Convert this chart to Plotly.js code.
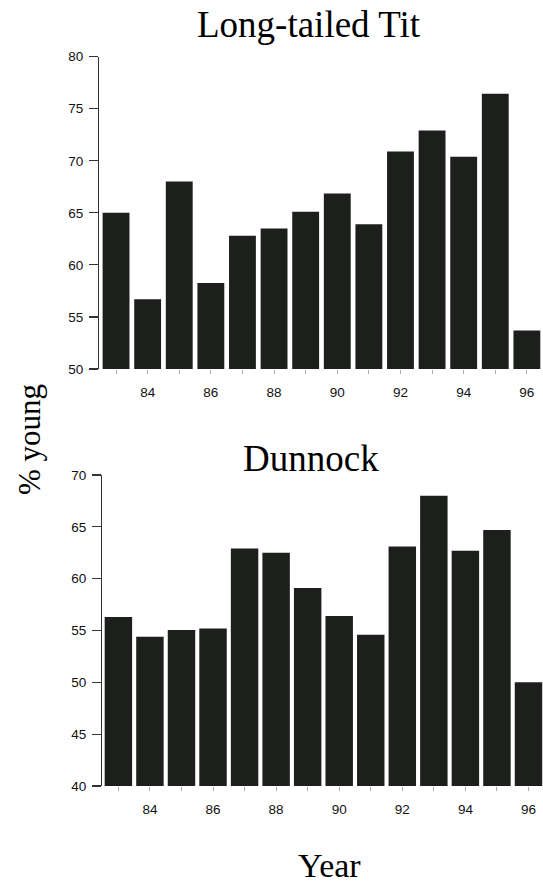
<!DOCTYPE html>
<html>
<head>
<meta charset="utf-8">
<script src="https://cdn.plot.ly/plotly-3.0.1.min.js"></script>
<style>html,body{margin:0;padding:0;background:#fff;}#chart{width:543px;height:886px;}</style>
</head>
<body>
<div id="chart"></div>
<script>
// Data
const years = [1983,1984,1985,1986,1987,1988,1989,1990,1991,1992,1993,1994,1995,1996];
const longTailedTit = [65.0,56.7,68.0,58.25,62.8,63.5,65.1,66.85,63.9,70.9,72.9,70.4,76.45,53.7];
const dunnock = [56.3,54.4,55.05,55.2,62.9,62.5,59.1,56.4,54.6,63.1,68.0,62.7,64.7,50.0];
const labelYears = [1984,1986,1988,1990,1992,1994,1996];
const yearLabels = ['84','86','88','90','92','94','96'];
const titTicks = [50,55,60,65,70,75,80];
const dunTicks = [40,45,50,55,60,65,70];

const barColor = '#1c1f1c';
const W = 543, H = 886;
const serif = 'Liberation Serif, Times New Roman, serif';
const sans = 'Liberation Sans, Arial, sans-serif';

const traces = [
  {type:'bar', x:years, y:longTailedTit, xaxis:'x', yaxis:'y', width:0.85,
   marker:{color:barColor, line:{width:0}}, hoverinfo:'x+y'},
  {type:'bar', x:years, y:dunnock, xaxis:'x2', yaxis:'y2', width:0.87,
   marker:{color:barColor, line:{width:0}}, hoverinfo:'x+y'}
];

function xax(domain, range, anchor){
  return {domain:domain, range:range, anchor:anchor, showline:false, showgrid:false, zeroline:false,
    tickmode:'array', tickvals:labelYears, ticktext:yearLabels, ticks:'outside', ticklen:4,
    tickcolor:'#aaa', tickwidth:1, ticklabelstandoff:7,
    minor:{tickmode:'linear', tick0:1983, dtick:1, ticks:'outside', ticklen:4, tickcolor:'#aaa', tickwidth:1},
    tickfont:{family:sans, size:13.5, color:'#111'}, fixedrange:true};
}
function yax(domain, range, anchor, vals){
  return {domain:domain, range:range, anchor:anchor, showline:true, linecolor:'#333', linewidth:1.2,
    showgrid:false, zeroline:false, tickmode:'array', tickvals:vals, ticks:'outside', ticklen:9,
    tickcolor:'#333', tickwidth:1.2, ticklabelstandoff:3,
    tickfont:{family:sans, size:13.5, color:'#111'}, fixedrange:true};
}

const layout = {
  width:W, height:H, margin:{l:0,r:0,t:0,b:0}, paper_bgcolor:'#fff', plot_bgcolor:'rgba(0,0,0,0)',
  showlegend:false,
  xaxis: xax([99.3/W, 1], [1982.47, 1996.51], 'y'),
  yaxis: yax([1-369/H, 1-56.7/H], [50, 80], 'x', titTicks),
  xaxis2: xax([102.3/W, 1], [1982.49, 1996.46], 'y2'),
  yaxis2: yax([1-786/H, 1-475/H], [40, 70], 'x2', dunTicks),
  annotations:[
    {text:'Long-tailed Tit', xref:'paper', yref:'paper', x:309/W, y:1-24/H, xanchor:'center', yanchor:'middle',
     showarrow:false, font:{family:serif, size:37, color:'#000'}},
    {text:'Dunnock', xref:'paper', yref:'paper', x:311/W, y:1-459/H, xanchor:'center', yanchor:'middle',
     showarrow:false, font:{family:serif, size:37, color:'#000'}},
    {text:'Year', xref:'paper', yref:'paper', x:329/W, y:1-865/H, xanchor:'center', yanchor:'middle',
     showarrow:false, font:{family:serif, size:34, color:'#000'}},
    {text:'% young', xref:'paper', yref:'paper', x:30/W, y:1-440/H, xanchor:'center', yanchor:'middle',
     textangle:-90, showarrow:false, font:{family:serif, size:31, color:'#000'}}
  ]
};

Plotly.newPlot('chart', traces, layout, {displayModeBar:false, staticPlot:true});
</script>
</body>
</html>
